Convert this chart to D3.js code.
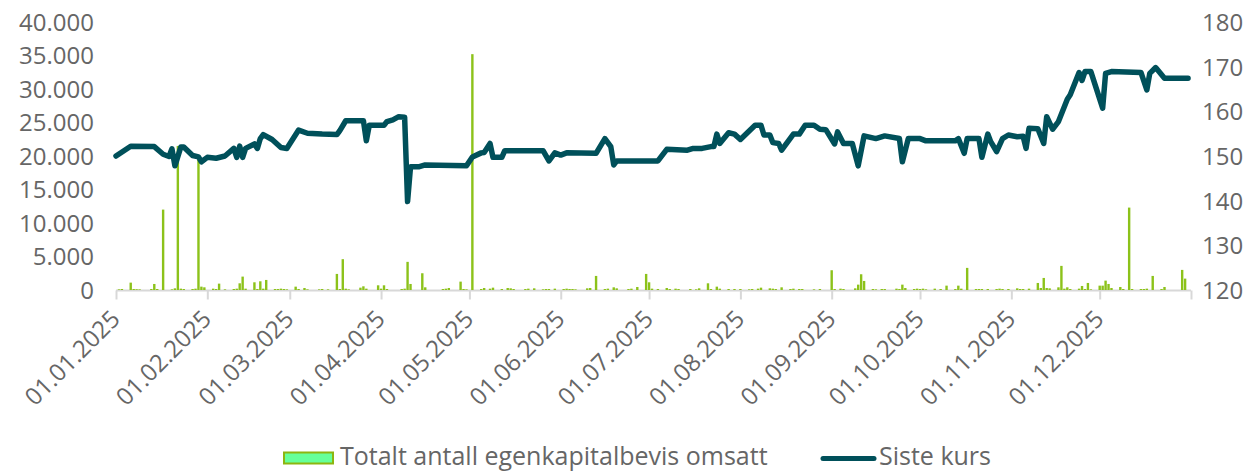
<!DOCTYPE html>
<html>
<head>
<meta charset="utf-8">
<script src="https://cdn.jsdelivr.net/npm/d3@7"></script>
<style>
  body { margin: 0; background: #fff; }
  text { font-family: "Open Sans", sans-serif; fill: #666; }
</style>
</head>
<body>
<div id="chart"></div>
<script>
// Siste kurs (closing price), breakpoints
const priceDates = ["2025-01-01","2025-01-06","2025-01-14","2025-01-17","2025-01-19","2025-01-20","2025-01-21","2025-01-23","2025-01-24","2025-01-27","2025-01-29","2025-01-30","2025-02-01","2025-02-04","2025-02-07","2025-02-10","2025-02-11","2025-02-12","2025-02-13","2025-02-14","2025-02-17","2025-02-18","2025-02-19","2025-02-20","2025-02-23","2025-02-26","2025-02-28","2025-03-04","2025-03-07","2025-03-12","2025-03-17","2025-03-18","2025-03-20","2025-03-26","2025-03-27","2025-03-28","2025-04-02","2025-04-03","2025-04-05","2025-04-07","2025-04-09","2025-04-10","2025-04-11","2025-04-14","2025-04-16","2025-04-30","2025-05-02","2025-05-05","2025-05-06","2025-05-08","2025-05-09","2025-05-12","2025-05-13","2025-05-26","2025-05-28","2025-05-30","2025-06-01","2025-06-03","2025-06-13","2025-06-16","2025-06-18","2025-06-19","2025-06-20","2025-07-04","2025-07-07","2025-07-14","2025-07-16","2025-07-19","2025-07-22","2025-07-23","2025-07-24","2025-07-25","2025-07-28","2025-07-30","2025-08-01","2025-08-06","2025-08-08","2025-08-09","2025-08-11","2025-08-12","2025-08-14","2025-08-15","2025-08-19","2025-08-21","2025-08-23","2025-08-26","2025-08-28","2025-08-30","2025-09-02","2025-09-03","2025-09-05","2025-09-08","2025-09-10","2025-09-12","2025-09-16","2025-09-19","2025-09-24","2025-09-25","2025-09-27","2025-10-01","2025-10-03","2025-10-13","2025-10-14","2025-10-16","2025-10-17","2025-10-21","2025-10-22","2025-10-24","2025-10-25","2025-10-27","2025-10-29","2025-10-31","2025-11-03","2025-11-05","2025-11-06","2025-11-07","2025-11-10","2025-11-12","2025-11-13","2025-11-15","2025-11-17","2025-11-20","2025-11-21","2025-11-24","2025-11-25","2025-11-26","2025-11-28","2025-12-02","2025-12-03","2025-12-05","2025-12-15","2025-12-17","2025-12-18","2025-12-20","2025-12-23","2025-12-31"]
const priceValues = [150.0,152.2,152.1,150.4,149.9,151.6,147.8,152.0,152.0,150.1,149.8,148.7,149.7,149.5,150.0,151.7,149.7,152.2,149.7,151.7,152.7,151.7,153.9,154.8,153.7,151.9,151.7,155.8,155.1,154.9,154.8,155.7,157.9,157.9,153.4,156.9,156.9,157.7,158.1,158.8,158.7,139.8,147.6,147.6,148.0,147.8,149.8,150.7,150.8,152.8,149.7,149.7,151.2,151.2,148.9,150.7,150.2,150.7,150.6,153.9,152.1,148.0,148.9,148.9,151.5,151.3,151.7,151.7,152.1,152.1,154.9,152.8,155.2,154.9,153.7,156.9,156.9,154.7,154.7,153.0,152.8,151.3,154.9,154.9,156.9,156.9,156.0,155.9,152.7,155.4,152.8,152.8,147.8,154.5,153.9,154.5,153.9,148.7,153.9,153.9,153.4,153.4,153.9,150.6,153.9,153.9,149.7,154.9,153.2,151.0,153.9,154.7,154.3,154.4,151.7,156.2,156.1,152.8,158.8,156.0,157.7,162.7,163.7,168.7,166.9,168.9,168.9,160.7,168.5,168.9,168.7,164.8,168.5,169.8,167.4,167.4]

// Totalt antall egenkapitalbevis omsatt (volume)
const volumeDates = ["2025-01-02","2025-01-03","2025-01-06","2025-01-07","2025-01-08","2025-01-09","2025-01-13","2025-01-14","2025-01-15","2025-01-17","2025-01-20","2025-01-21","2025-01-22","2025-01-23","2025-01-24","2025-01-27","2025-01-28","2025-01-29","2025-01-30","2025-01-31",
  "2025-02-03","2025-02-04","2025-02-05","2025-02-07","2025-02-10","2025-02-11","2025-02-12","2025-02-13","2025-02-14","2025-02-17","2025-02-18","2025-02-19","2025-02-20","2025-02-21","2025-02-24","2025-02-25","2025-02-26","2025-02-27","2025-02-28",
  "2025-03-03","2025-03-04","2025-03-06","2025-03-07","2025-03-11","2025-03-12","2025-03-14","2025-03-17","2025-03-18","2025-03-19","2025-03-20","2025-03-21","2025-03-25","2025-03-26","2025-03-27","2025-03-31",
  "2025-04-01","2025-04-02","2025-04-03","2025-04-08","2025-04-09","2025-04-10","2025-04-11","2025-04-15","2025-04-16","2025-04-22","2025-04-23","2025-04-24","2025-04-28","2025-04-29","2025-04-30",
  "2025-05-02","2025-05-05","2025-05-06","2025-05-08","2025-05-09","2025-05-12","2025-05-14","2025-05-15","2025-05-16","2025-05-20","2025-05-21","2025-05-23","2025-05-26","2025-05-27","2025-05-28","2025-05-30",
  "2025-06-02","2025-06-03","2025-06-04","2025-06-05","2025-06-06","2025-06-10","2025-06-11","2025-06-13","2025-06-16","2025-06-17","2025-06-19","2025-06-20","2025-06-24","2025-06-25","2025-06-27","2025-06-30",
  "2025-07-01","2025-07-02","2025-07-04","2025-07-07","2025-07-08","2025-07-10","2025-07-11","2025-07-15","2025-07-17","2025-07-18","2025-07-21","2025-07-22","2025-07-24","2025-07-25","2025-07-28","2025-07-30",
  "2025-08-01","2025-08-04","2025-08-05","2025-08-07","2025-08-08","2025-08-11","2025-08-12","2025-08-13","2025-08-15","2025-08-18","2025-08-19","2025-08-21","2025-08-22","2025-08-26","2025-08-28",
  "2025-09-01","2025-09-02","2025-09-04","2025-09-05","2025-09-09","2025-09-10","2025-09-11","2025-09-12","2025-09-15","2025-09-16","2025-09-18","2025-09-19","2025-09-23","2025-09-24","2025-09-25","2025-09-26","2025-09-29","2025-09-30",
  "2025-10-01","2025-10-02","2025-10-03","2025-10-06","2025-10-08","2025-10-10","2025-10-13","2025-10-14","2025-10-15","2025-10-17","2025-10-20","2025-10-21","2025-10-22","2025-10-24","2025-10-27","2025-10-28","2025-10-29","2025-10-31",
  "2025-11-03","2025-11-04","2025-11-05","2025-11-07","2025-11-10","2025-11-11","2025-11-12","2025-11-13","2025-11-14","2025-11-17","2025-11-18","2025-11-19","2025-11-20","2025-11-21","2025-11-24","2025-11-25","2025-11-26","2025-11-27","2025-11-28",
  "2025-12-01","2025-12-02","2025-12-03","2025-12-04","2025-12-05","2025-12-08","2025-12-09","2025-12-11","2025-12-12","2025-12-15","2025-12-16","2025-12-17","2025-12-19","2025-12-22","2025-12-23","2025-12-29","2025-12-30"]
const volumeValues = [100,150,1100,150,120,100,150,900,150,12000,100,250,21500,200,150,150,200,19500,500,400,
  200,150,950,100,150,200,1000,2000,200,1150,150,1300,200,1500,150,150,200,150,100,
  500,150,300,100,100,150,100,2400,150,4600,200,100,350,550,200,700,
  200,700,150,150,200,4200,900,2500,400,150,200,300,1250,150,100,
  35200,150,300,200,350,150,300,250,150,150,200,250,100,150,150,200,
  150,200,150,150,100,250,300,2100,150,200,400,250,150,200,450,2400,
  1150,200,150,300,150,200,150,150,100,250,1000,150,500,200,150,150,
  150,100,150,200,350,250,200,150,400,150,200,150,150,100,150,
  2950,150,200,150,250,800,2350,1350,150,100,150,150,200,150,800,300,150,200,
  150,200,100,200,150,650,150,650,200,3300,150,150,150,150,150,200,150,150,
  250,150,150,200,1050,300,1800,300,250,400,3600,200,400,150,200,600,150,1050,100,
  650,650,1400,900,300,450,150,12300,150,150,150,200,2100,150,450,3000,1700]

const leftTicks = [0, 5000, 10000, 15000, 20000, 25000, 30000, 35000, 40000]
const rightTicks = [120, 130, 140, 150, 160, 170, 180]
const xTickLabels = ["01.01.2025","01.02.2025","01.03.2025","01.04.2025","01.05.2025","01.06.2025","01.07.2025","01.08.2025","01.09.2025","01.10.2025","01.11.2025","01.12.2025"]

const width = 1260, height = 472
const parseDay = d3.utcParse("%Y-%m-%d")
const parseTick = d3.utcParse("%d.%m.%Y")
const nf = d3.formatLocale({decimal: ",", thousands: ".", grouping: [3], currency: ["", ""]}).format(",d")

const svg = d3.select("#chart").append("svg")
  .attr("width", width)
  .attr("height", height)

const x = d3.scaleUtc()
  .domain([parseDay("2025-01-01"), parseDay("2026-01-01")])
  .range([116, 1191])
const yVol = d3.scaleLinear().domain([0, 40000]).range([290, 22])
const yPrice = d3.scaleLinear().domain([120, 180]).range([290, 22])

// left axis
const gl = svg.append("g")
  .attr("transform", "translate(94,0)")
  .call(d3.axisLeft(yVol).tickValues(leftTicks).tickFormat(nf).tickSize(0).tickPadding(0))
gl.select(".domain").remove()
gl.selectAll("text").style("font-size", "24px").attr("fill", "#666").attr("dy", "0.35em")

// right axis
const gr = svg.append("g")
  .attr("transform", "translate(1202,0)")
  .call(d3.axisRight(yPrice).tickValues(rightTicks).tickSize(0).tickPadding(0))
gr.select(".domain").remove()
gr.selectAll("text").style("font-size", "24px").attr("fill", "#666").attr("dy", "0.35em")

// bottom axis
const tickDates = xTickLabels.map(parseTick).concat([parseDay("2026-01-01")])
const gx = svg.append("g")
  .attr("transform", "translate(0,290.5)")
  .call(d3.axisBottom(x).tickValues(tickDates).tickSize(9)
    .tickFormat((d, i) => xTickLabels[i] || ""))
gx.select(".domain").attr("stroke", "#d8d8d8").attr("stroke-width", 2)
  .attr("d", "M116,0H1191")
gx.selectAll(".tick line").attr("stroke", "#d8d8d8").attr("stroke-width", 2)
gx.selectAll(".tick text")
  .style("font-size", "24px")
  .attr("fill", "#666")
  .attr("text-anchor", "end")
  .attr("dy", null)
  .attr("y", null)
  .attr("transform", "translate(5,30) rotate(-45)")

// volume bars
const vol = volumeDates.map((d, i) => ({date: parseDay(d), value: volumeValues[i]}))
svg.append("g")
  .selectAll("rect")
  .data(vol)
  .enter()
  .append("rect")
  .attr("x", d => x(d.date) - 1.2)
  .attr("y", d => yVol(d.value))
  .attr("width", 2.4)
  .attr("height", d => 290 - yVol(d.value))
  .attr("fill", "#8cc21a")

// price line
const price = priceDates.map((d, i) => ({date: parseDay(d), value: priceValues[i]}))
svg.append("path")
  .datum(price)
  .attr("d", d3.line().x(d => x(d.date)).y(d => yPrice(d.value)))
  .style("fill", "none")
  .style("stroke", "#00505a")
  .style("stroke-width", 5.5)
  .style("stroke-linejoin", "round")
  .style("stroke-linecap", "round")

// legend
const lg = svg.append("g")
lg.append("rect")
  .attr("x", 284).attr("y", 452.5)
  .attr("width", 49).attr("height", 11)
  .attr("fill", "#66ff99")
  .attr("stroke", "#8cb50f")
  .attr("stroke-width", 2)
lg.append("text")
  .attr("x", 340).attr("y", 465)
  .style("font-size", "25px")
  .text("Totalt antall egenkapitalbevis omsatt")
lg.append("line")
  .attr("x1", 823).attr("x2", 874)
  .attr("y1", 458.5).attr("y2", 458.5)
  .style("stroke", "#00505a")
  .style("stroke-width", 5)
  .style("stroke-linecap", "round")
lg.append("text")
  .attr("x", 879).attr("y", 465)
  .style("font-size", "25px")
  .text("Siste kurs")
</script>
</body>
</html>
